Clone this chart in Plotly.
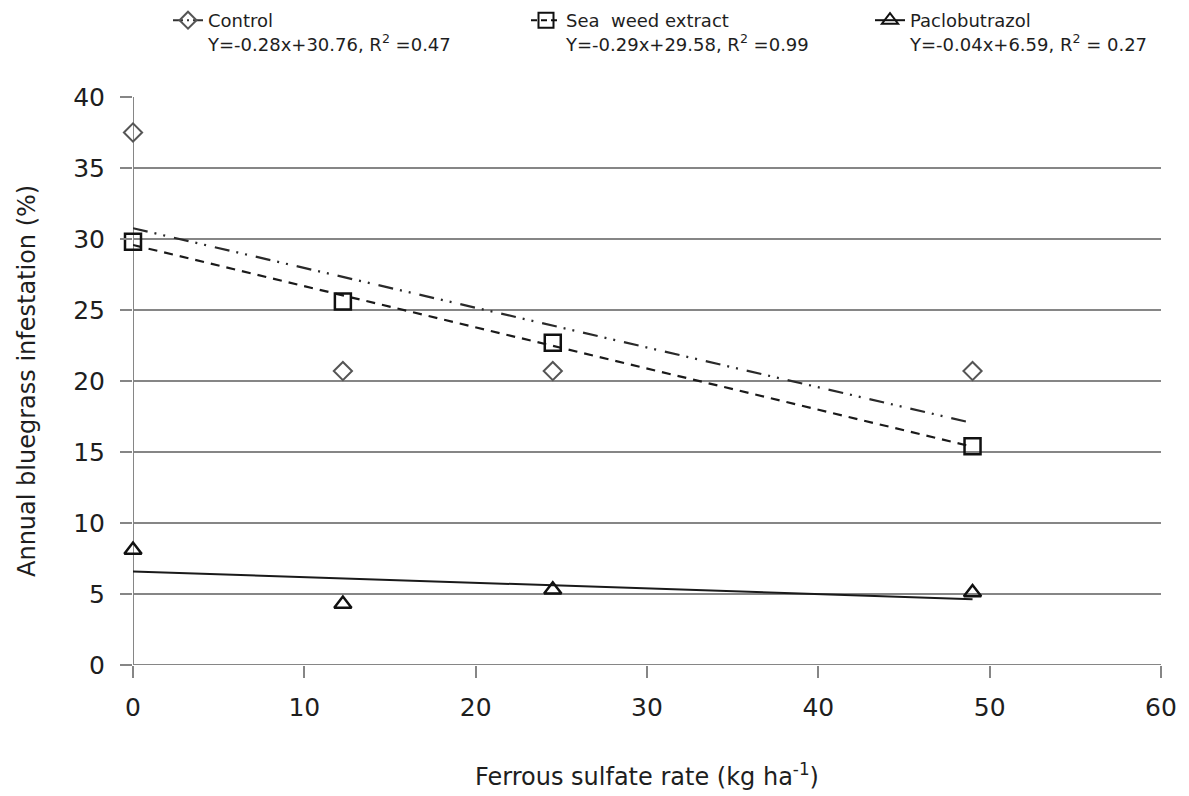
import plotly.graph_objects as go

# ---- data ----
rates = [0, 12.25, 24.5, 49]
control = [37.5, 20.7, 20.7, 20.7]
seaweed = [29.8, 25.6, 22.7, 15.4]
paclo = [8.1, 4.3, 5.3, 5.1]

trend_x = [0, 49]
control_trend = [30.76, 17.04]
seaweed_trend = [29.58, 15.37]
paclo_trend = [6.59, 4.63]

names = ["Control", "Sea  weed extract", "Paclobutrazol"]
equations = ["Y=-0.28x+30.76, R<sup>2</sup> =0.47",
             "Y=-0.29x+29.58, R<sup>2</sup> =0.99",
             "Y=-0.04x+6.59, R<sup>2</sup> = 0.27"]
x_title = "Ferrous sulfate rate (kg ha<sup>-1</sup>)"
y_title = "Annual bluegrass infestation (%)"

FONT = "DejaVu Sans"
TXT = "#1e1e1e"
fig = go.Figure()

dash_cd = "15px,7px,2px,7px,2px,9px"
dash_sw = "9px,7px"

# trend lines
fig.add_trace(go.Scatter(x=trend_x, y=control_trend, mode="lines",
                         line=dict(color="#2a2a2a", width=2.2, dash=dash_cd), showlegend=False))
fig.add_trace(go.Scatter(x=trend_x, y=seaweed_trend, mode="lines",
                         line=dict(color="#1a1a1a", width=2.2, dash=dash_sw), showlegend=False))
fig.add_trace(go.Scatter(x=trend_x, y=paclo_trend, mode="lines",
                         line=dict(color="#1a1a1a", width=2), showlegend=False))

# points
fig.add_trace(go.Scatter(x=rates, y=control, mode="markers", cliponaxis=False,
                         marker=dict(symbol="diamond-open", size=14, color="#555555",
                                     line=dict(width=2, color="#555555")), showlegend=False))
fig.add_trace(go.Scatter(x=rates, y=seaweed, mode="markers", cliponaxis=False,
                         marker=dict(symbol="square-open", size=16, color="#111111",
                                     line=dict(width=2.5, color="#111111")), showlegend=False))
fig.add_trace(go.Scatter(x=rates, y=paclo, mode="markers", cliponaxis=False,
                         marker=dict(symbol="triangle-up-open", size=15, color="#111111",
                                     line=dict(width=2.5, color="#111111")), showlegend=False))

# legend entries (one legend box per entry)
leg_styles = [
    (dict(symbol="diamond-open", size=13, color="#555555", line=dict(width=2, color="#555555")),
     dict(color="#333333", width=2, dash="10px,4px,2px,4px")),
    (dict(symbol="square-open", size=15, color="#111111", line=dict(width=2, color="#111111")),
     dict(color="#111111", width=2, dash="6px,4px")),
    (dict(symbol="triangle-up-open", size=14, color="#111111", line=dict(width=2, color="#111111")),
     dict(color="#111111", width=2)),
]
legend_ids = ["legend", "legend2", "legend3"]
legend_x = [168, 526, 870]
for n, eq, (mk, ln), lid in zip(names, equations, leg_styles, legend_ids):
    fig.add_trace(go.Scatter(x=[None], y=[None], mode="lines+markers", name=n + "<br>" + eq,
                             marker=mk, line=ln, showlegend=True, legend=lid))

legend_common = dict(xanchor="left", yanchor="top", yref="container", xref="container",
                     valign="top", bgcolor="rgba(0,0,0,0)",
                     font=dict(family=FONT, size=18, color=TXT))
layout_legends = {}
for lid, lx in zip(legend_ids, legend_x):
    layout_legends[lid] = dict(legend_common, x=lx / 1189, y=1 - 2 / 796)

axis_col = "#868686"
fig.update_layout(
    width=1189, height=796,
    margin=dict(l=133, r=28, t=97, b=131, autoexpand=False),
    paper_bgcolor="white", plot_bgcolor="white",
    font=dict(family=FONT, color=TXT),
    showlegend=True,
    xaxis=dict(range=[0, 60], dtick=10, showgrid=False, zeroline=False,
               showline=False, ticks="outside", ticklen=12, tickwidth=2, tickcolor=axis_col,
               ticklabelstandoff=8,
               tickfont=dict(family=FONT, size=25, color=TXT)),
    yaxis=dict(range=[0, 40], dtick=5, showgrid=True, gridcolor=axis_col, gridwidth=2,
               zeroline=False, showline=False, ticks="outside", ticklen=12, tickwidth=2,
               tickcolor=axis_col, ticklabelstandoff=10,
               tickfont=dict(family=FONT, size=25, color=TXT)),
    **layout_legends,
)
# axis titles
fig.add_annotation(text=x_title, xref="paper", yref="paper", x=0.5, y=0,
                   yshift=-110, showarrow=False, xanchor="center", yanchor="middle",
                   font=dict(family=FONT, size=24, color=TXT))
fig.add_annotation(text=y_title, xref="paper", yref="paper", x=0, y=0.5,
                   xshift=-106, showarrow=False, textangle=-90,
                   xanchor="center", yanchor="middle",
                   font=dict(family=FONT, size=24, color=TXT))
# axis lines at x=0 (vertical) and y=0 (horizontal)
fig.add_vline(x=0, line=dict(color=axis_col, width=2), layer="below")
fig.add_hline(y=0, line=dict(color=axis_col, width=2), layer="below")

fig.write_html("out.html")
